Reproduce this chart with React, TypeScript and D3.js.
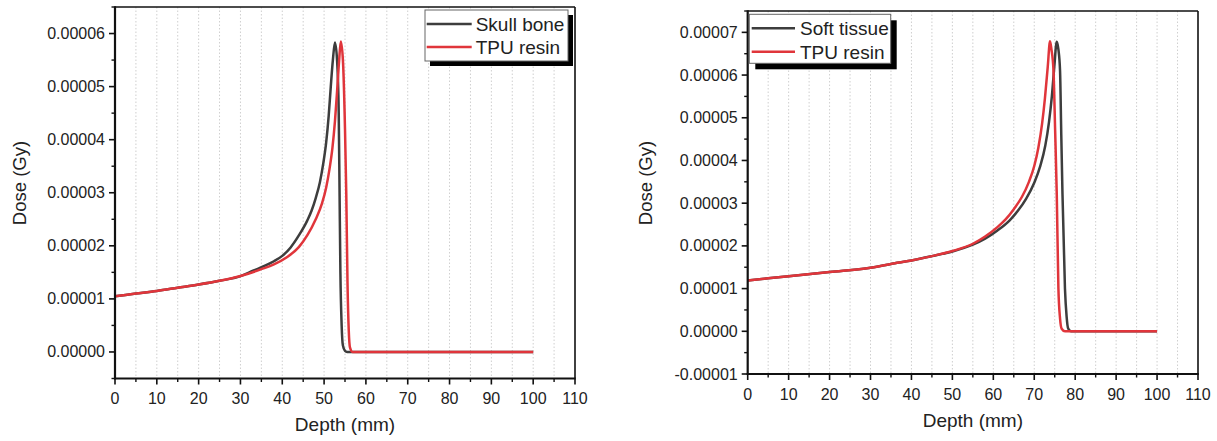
import React from "react";
import * as d3 from "d3";

// Dose values are in units of 1e-5 Gy
const DOSE_UNIT = 1e-5;

const skullDepth = [0, 5, 10, 15, 20, 25, 30, 33, 36, 38, 40, 42, 44, 46, 47, 48, 49, 49.8, 50.5, 51.1, 51.6, 52.1, 52.6, 53.1, 53.5, 53.7, 53.9, 54.2, 54.5, 55.0, 55.5, 60, 70, 80, 90, 100];
const skullDose = [1.05, 1.10, 1.15, 1.21, 1.27, 1.34, 1.43, 1.53, 1.63, 1.71, 1.81, 1.97, 2.2, 2.48, 2.66, 2.9, 3.2, 3.55, 3.95, 4.45, 5.0, 5.5, 5.83, 5.5, 4.5, 3.0, 1.5, 0.5, 0.12, 0.02, 0, 0, 0, 0, 0, 0];

const tpuLeftDepth = [0, 5, 10, 15, 20, 25, 30, 35, 38, 41, 44, 46, 48, 49.5, 50.5, 51.3, 52.0, 52.6, 53.1, 53.6, 54.0, 54.5, 55.0, 55.3, 55.6, 55.9, 56.2, 56.8, 60, 70, 80, 90, 100];
const tpuLeftDose = [1.05, 1.10, 1.15, 1.21, 1.27, 1.34, 1.43, 1.56, 1.65, 1.78, 1.98, 2.2, 2.5, 2.8, 3.1, 3.45, 3.85, 4.35, 4.9, 5.5, 5.85, 5.5, 4.2, 3.0, 1.3, 0.4, 0.08, 0, 0, 0, 0, 0, 0];

const softDepth = [0, 10, 20, 30, 37, 40, 45, 50, 55, 58, 61, 64, 66, 68, 70, 71.5, 72.7, 73.6, 74.3, 74.9, 75.5, 75.9, 76.3, 76.6, 76.9, 77.5, 77.9, 78.3, 79.0, 80, 90, 100];
const softDose = [1.19, 1.29, 1.39, 1.49, 1.61, 1.66, 1.76, 1.87, 2.03, 2.17, 2.36, 2.6, 2.82, 3.1, 3.48, 3.88, 4.35, 4.9, 5.5, 6.2, 6.78, 6.6, 6.1, 4.6, 3.2, 1.0, 0.35, 0.06, 0, 0, 0, 0];

const tpuRightDepth = [0, 10, 20, 30, 37, 40, 45, 50, 55, 58, 61, 63, 65, 67, 68.7, 70, 71, 71.9, 72.6, 73.3, 73.85, 74.2, 74.7, 75.1, 75.5, 75.9, 76.3, 76.7, 77.5, 80, 90, 100];
const tpuRightDose = [1.19, 1.29, 1.39, 1.49, 1.61, 1.66, 1.76, 1.88, 2.05, 2.22, 2.44, 2.62, 2.86, 3.15, 3.5, 3.87, 4.3, 4.85, 5.45, 6.2, 6.79, 6.6, 6.1, 4.71, 3.2, 1.0, 0.3, 0.06, 0, 0, 0, 0];

const xTicks = [0, 10, 20, 30, 40, 50, 60, 70, 80, 90, 100, 110];
const leftYTicks = [0, 1, 2, 3, 4, 5, 6];
const rightYTicks = [-1, 0, 1, 2, 3, 4, 5, 6, 7];

const BLACK = "#3d3d3d";
const RED = "#e0353b";
const FONT = "'Liberation Sans', Arial, sans-serif";

type Series = { name: string; depth: number[]; dose: number[]; color: string };

type PanelCfg = {
  x0: number; x1: number; y0: number; y1: number;
  yDomain: [number, number]; yTicks: number[];
  series: Series[];
  legend: { x: number; y: number; w: number; h: number; sh: number; lx0: number; lx1: number; tx: number; r1: number; r2: number };
  yTitleX: number; yTitleY: number; xTitleY: number;
};

const fmt = (v: number) => (v < 0 ? "-" : "") + Math.abs(v * DOSE_UNIT).toFixed(5);

function Panel({ c }: { c: PanelCfg }) {
  const x = d3.scaleLinear().domain([0, 110]).range([c.x0, c.x1]);
  const y = d3.scaleLinear().domain(c.yDomain).range([c.y1, c.y0]);
  const line = d3.line<[number, number]>().x((d) => x(d[0])).y((d) => y(d[1])).curve(d3.curveMonotoneX);
  const grid = d3.range(5, 110, 5);
  const minorX = d3.range(5, 110, 10);
  const minorY = d3.range(c.yDomain[0], c.yDomain[1] + 0.001, 0.5).filter((v) => Math.abs(v - Math.round(v)) > 0.1);
  const xTitleX = (c.x0 + c.x1) / 2;
  return (
    <g>
      {grid.map((g) => (
        <line key={"g" + g} x1={x(g)} x2={x(g)} y1={c.y0} y2={c.y1} stroke="#cfcfcf" strokeWidth={1} strokeDasharray="1.5,2" />
      ))}
      {c.series.map((s) => (
        <path key={s.name} d={line(s.depth.map((d, i) => [d, s.dose[i]] as [number, number])) || ""} fill="none" stroke={s.color} strokeWidth={2.5} strokeLinejoin="round" />
      ))}
      {/* frame */}
      <line x1={c.x0} x2={c.x1} y1={c.y0} y2={c.y0} stroke="#111" strokeWidth={1.6} />
      <line x1={c.x1} x2={c.x1} y1={c.y0} y2={c.y1} stroke="#111" strokeWidth={1.6} />
      <line x1={c.x0} x2={c.x0} y1={c.y0 - 0.8} y2={c.y1 + 1} stroke="#111" strokeWidth={2.2} />
      <line x1={c.x0 - 1} x2={c.x1 + 0.8} y1={c.y1} y2={c.y1} stroke="#111" strokeWidth={2.2} />
      {/* x ticks */}
      {xTicks.map((t) => (
        <g key={"xt" + t}>
          <line x1={x(t)} x2={x(t)} y1={c.y1} y2={c.y1 + 6} stroke="#111" strokeWidth={1.6} />
          <text x={x(t)} y={c.y1 + 25.5} textAnchor="middle" fontSize={16} fill="#222" fontFamily={FONT}>{t}</text>
        </g>
      ))}
      {minorX.map((t) => (
        <line key={"xm" + t} x1={x(t)} x2={x(t)} y1={c.y1} y2={c.y1 + 3.5} stroke="#111" strokeWidth={1.4} />
      ))}
      {/* y ticks */}
      {c.yTicks.map((t) => (
        <g key={"yt" + t}>
          <line x1={c.x0 - 6} x2={c.x0} y1={y(t)} y2={y(t)} stroke="#111" strokeWidth={1.6} />
          <text x={c.x0 - 10} y={y(t) + 5.5} textAnchor="end" fontSize={16} fill="#222" fontFamily={FONT}>{fmt(t)}</text>
        </g>
      ))}
      {minorY.map((t) => (
        <line key={"ym" + t} x1={c.x0 - 3.5} x2={c.x0} y1={y(t)} y2={y(t)} stroke="#111" strokeWidth={1.4} />
      ))}
      {/* titles */}
      <text x={xTitleX} y={c.xTitleY} textAnchor="middle" fontSize={19} fill="#222" fontFamily={FONT}>Depth (mm)</text>
      <text transform={`translate(${c.yTitleX},${c.yTitleY}) rotate(-90)`} textAnchor="middle" fontSize={18.5} fill="#222" fontFamily={FONT}>Dose (Gy)</text>
      {/* legend */}
      <rect x={c.legend.x + c.legend.sh} y={c.legend.y + c.legend.sh} width={c.legend.w} height={c.legend.h} fill="#000" />
      <rect x={c.legend.x} y={c.legend.y} width={c.legend.w} height={c.legend.h} fill="#fff" stroke="#666" strokeWidth={1} />
      {c.series.map((s, i) => {
        const ry = i === 0 ? c.legend.r1 : c.legend.r2;
        return (
          <g key={"lg" + s.name}>
            <line x1={c.legend.lx0} x2={c.legend.lx1} y1={ry} y2={ry} stroke={s.color} strokeWidth={2.5} />
            <text x={c.legend.tx} y={ry + 6.8} fontSize={19} fill="#222" fontFamily={FONT}>{s.name}</text>
          </g>
        );
      })}
    </g>
  );
}

const leftPanel: PanelCfg = {
  x0: 115, x1: 575, y0: 7, y1: 378.5,
  yDomain: [-0.5, 6.5], yTicks: leftYTicks,
  series: [
    { name: "Skull bone", depth: skullDepth, dose: skullDose, color: BLACK },
    { name: "TPU resin", depth: tpuLeftDepth, dose: tpuLeftDose, color: RED },
  ],
  legend: { x: 425, y: 10, w: 143, h: 51, sh: 5, lx0: 426.7, lx1: 471.7, tx: 475.7, r1: 24, r2: 47 },
  yTitleX: 25.5, yTitleY: 183, xTitleY: 431,
};

const rightPanel: PanelCfg = {
  x0: 747.7, x1: 1198, y0: 11, y1: 374,
  yDomain: [-1, 7.5], yTicks: rightYTicks,
  series: [
    { name: "Soft tissue", depth: softDepth, dose: softDose, color: BLACK },
    { name: "TPU resin", depth: tpuRightDepth, dose: tpuRightDose, color: RED },
  ],
  legend: { x: 749.3, y: 14.3, w: 141.4, h: 49, sh: 6, lx0: 751.7, lx1: 795, tx: 800, r1: 28.3, r2: 51.7 },
  yTitleX: 652, yTitleY: 183, xTitleY: 427,
};

export default function App() {
  return (
    <svg width={1217} height={441} style={{ position: "absolute", left: 0, top: 0, background: "#fff" }}>
      <rect width={1217} height={441} fill="#fff" />
      <Panel c={leftPanel} />
      <Panel c={rightPanel} />
    </svg>
  );
}
